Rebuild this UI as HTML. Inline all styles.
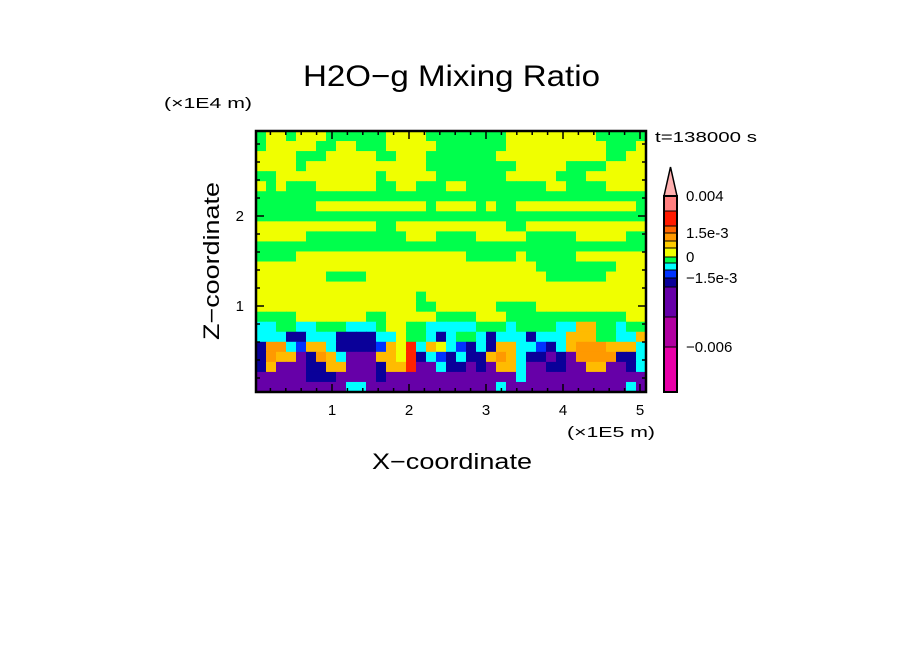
<!DOCTYPE html>
<html><head><meta charset="utf-8"><style>
html,body{margin:0;padding:0;background:#fff;}
svg{display:block;font-family:"Liberation Sans",sans-serif;}
</style></head><body>
<svg id="chart" width="904" height="654" viewBox="0 0 904 654" xmlns="http://www.w3.org/2000/svg">
<rect width="904" height="654" fill="#fff"/>
<text x="303" y="86" font-size="30" textLength="297" lengthAdjust="spacingAndGlyphs">H2O−g Mixing Ratio</text>
<text x="164" y="108" font-size="15" textLength="88" lengthAdjust="spacingAndGlyphs">(×1E4 m)</text>
<text x="655" y="142" font-size="15" textLength="102" lengthAdjust="spacingAndGlyphs">t=138000 s</text>
<text x="567" y="437" font-size="15" textLength="88" lengthAdjust="spacingAndGlyphs">(×1E5 m)</text>
<text x="372" y="469" font-size="22" textLength="160" lengthAdjust="spacingAndGlyphs">X−coordinate</text>
<text transform="translate(219,340) rotate(-90)" font-size="22" textLength="158" lengthAdjust="spacingAndGlyphs">Z−coordinate</text>
<defs><clipPath id="pc"><rect x="256" y="131" width="390" height="261"/></clipPath></defs>
<g id="field" clip-path="url(#pc)"></g>
<g id="axes"></g>
<g id="cbar"></g>
</svg>
<script>
const levelColors = {G:'#00ff4c',Y:'#f0ff00',C:'#00ffff',B:'#0033ff',D:'#0a0099',P:'#6600a8',O:'#ff9900',A:'#ffbb00',R:'#ff2200',M:'#cc00aa'};
const fieldRows = [
"GYYGYYYGGGGGGYYYYGGGGGGGGYYYYYYYYYGGGGG",
"GYYYYYGGYYGGGYYYYYGGGGGGGYYYYYYYYYYGGGY",
"YYYYGGGYYYYYGGYYYGGGGGGGYYYYYYYYYYYGGYY",
"YYYYGYYYYYYYYYYYYGGGGGGGGGYYYYYGGGGYYYY",
"GGYYYYYYYYYYGYYYYYGGGGGGGYYYYYGGGYYYYYY",
"YGYGGGYYYYYYGGYYGGGYYGGGGGGGGYYGGGGYYYY",
"GGGGGGGGGGGGGGGGGGGGGGGGGGGGGGGGGGGGGGG",
"GGGGGGYYYYYYYYYYYGYYYYGYGGYYYYYYYYYYYYG",
"GGGGGGGGGGGGGGGGGGGGGGGGGGGGGGGGGGGGGGG",
"YYYYYYYYYYYYGGYYYYYYYYYYYGGYYYYYYYYYYYY",
"YYYYYGGGGGGGGGGYYYGGGGYYYYYGGGGGYYYYYGG",
"GGGGGGGGGGGGGGGGGGGGGGGGGGGGGGGGGGGGGGG",
"GGGGYYYYYYYYYYYYYYYYYGGGGGYGGGGGYYYYYYY",
"YYYYYYYYYYYYYYYYYYYYYYYYYYYYGGGGGGGGYYY",
"YYYYYYYGGGGYYYYYYYYYYYYYYYYYYGGGGGGYYYY",
"YYYYYYYYYYYYYYYYYYYYYYYYYYYYYYYYYYYYYYY",
"YYYYYYYYYYYYYYYYGYYYYYYYYYYYYYYYYYYYYYY",
"YYYYYYYYYYYYYYYYGGYYYYYYGGGGYYYYYYYYYYY",
"GGGGYYYYYYYGGYYYYYGGGGYYYGGGGGGGGGGGGYY",
"CCGGCCGGGCCCGYYGGCCCCCGGGCGGGGCCAAGGCGG",
"CCCDDCCCDDDDCCYGGCDCGGCDCCCDCCCAAAGGCCA",
"DOOCBAACDDDDBAYRCAYCBDCDAACCBDCAOOOAAAC",
"DOAAPDOACPPPAAYRDCBDCDDAOACDDPDPOOOODDC",
"DAPPPDDAAPPPDAARPPCDDPDPAACPPDDPPAAPPDC",
"PPPPPDDDPPPPDPPPPPPPPPPPPPCPPPPPPPPPPPP",
"PPPPPPPPPCCPPPPPPPPPPPPPCPPPPPPPPPPPPCP"];
const xTicks = [1,2,3,4,5];
const yTicks = [1,2];
const cbarBounds = [0.004,0.003,0.002,0.0015,0.001,0.0005,0,-0.0005,-0.001,-0.0015,-0.002,-0.004,-0.006,-0.009];
const cbarColors = ['#ff7f7f','#ff1a00','#ff6600','#ff9900','#ffcc00','#f0ff00','#00ff4c','#00ffff','#0033ff','#0a0099','#6600a8','#b000a0','#e800a8'];
const cbarLabels = [[0.004,'0.004'],[0.0015,'1.5e-3'],[0,'0'],[-0.0015,'−1.5e-3'],[-0.006,'−0.006']];
const NS='http://www.w3.org/2000/svg';
function mk(t,a,p){const e=document.createElementNS(NS,t);for(const k in a)e.setAttribute(k,a[k]);p.appendChild(e);return e;}
const X0=256,X1=646,Y0=131,Y1=392;
const xs=v=>255+77*v, ys=v=>396-90*v;
const field=document.getElementById('field');
const nr=fieldRows.length;
fieldRows.forEach((row,r)=>{const nc=row.length;const cw=(X1-X0)/nc,rh=(Y1-Y0)/nr;
 for(let c=0;c<nc;c++){const el=mk('rect',{x:X0+c*cw,y:Y0+r*rh,width:cw+0.6,height:rh+0.6,fill:levelColors[row[c]]},field);
 
 }});
const ax=document.getElementById('axes');
const frame=mk('rect',{x:X0,y:Y0,width:X1-X0,height:Y1-Y0,fill:'none',stroke:'#000','stroke-width':2.5},ax);


for(let v=0.2;v<=5.1;v+=0.2){const x=xs(v);const big=Math.abs(v-Math.round(v))<0.01;const L=big?8:4;
 mk('line',{x1:x,x2:x,y1:Y1,y2:Y1-L,stroke:'#000','stroke-width':1.5},ax);mk('line',{x1:x,x2:x,y1:Y0,y2:Y0+L,stroke:'#000','stroke-width':1.5},ax);}
for(let v=0.2;v<=2.9;v+=0.2){const y=ys(v);const big=Math.abs(v-Math.round(v))<0.01;const L=big?8:4;
 mk('line',{x1:X0,x2:X0+L,y1:y,y2:y,stroke:'#000','stroke-width':1.5},ax);mk('line',{x1:X1,x2:X1-L,y1:y,y2:y,stroke:'#000','stroke-width':1.5},ax);}
xTicks.forEach(v=>{const t=mk('text',{x:xs(v),y:415,'font-size':15,'text-anchor':'middle'},ax);t.textContent=v;
 
 });
yTicks.forEach(v=>{const t=mk('text',{x:244,y:ys(v)+5,'font-size':15,'text-anchor':'end'},ax);t.textContent=v;
 
 });
const cb=document.getElementById('cbar');
const CX0=664,CX1=677,CT=196,CB=392;
// colorbar segment pixel edges (nonlinear spacing matching reference layout)
const segEdges=[196,211,226,233,241,248,257,263,270,278,287,317,347,392];
const cy=v=>{for(let i=0;i<cbarBounds.length-1;i++){const a=cbarBounds[i],b=cbarBounds[i+1];if(v<=a&&v>=b)return segEdges[i]+(a-v)/(a-b)*(segEdges[i+1]-segEdges[i]);}return v>cbarBounds[0]?CT:CB;};
const tri=mk('polygon',{points:`${CX0},${CT} ${CX1},${CT} ${(CX0+CX1)/2},167`,fill:'#ffb0b0',stroke:'#000','stroke-width':1.5},cb);


cbarColors.forEach((c,i)=>{const y0=cy(cbarBounds[i]),y1=cy(cbarBounds[i+1]);
 const r=mk('rect',{x:CX0,y:y0,width:CX1-CX0,height:y1-y0,fill:c,stroke:'#000','stroke-width':1},cb);
 
 });
mk('rect',{x:CX0,y:CT,width:CX1-CX0,height:CB-CT,fill:'none',stroke:'#000','stroke-width':2},cb);
cbarLabels.forEach(([v,s])=>{const t=mk('text',{x:686,y:cy(v)+5,'font-size':15},cb);t.textContent=s;
 
 });
</script>
</body></html>
